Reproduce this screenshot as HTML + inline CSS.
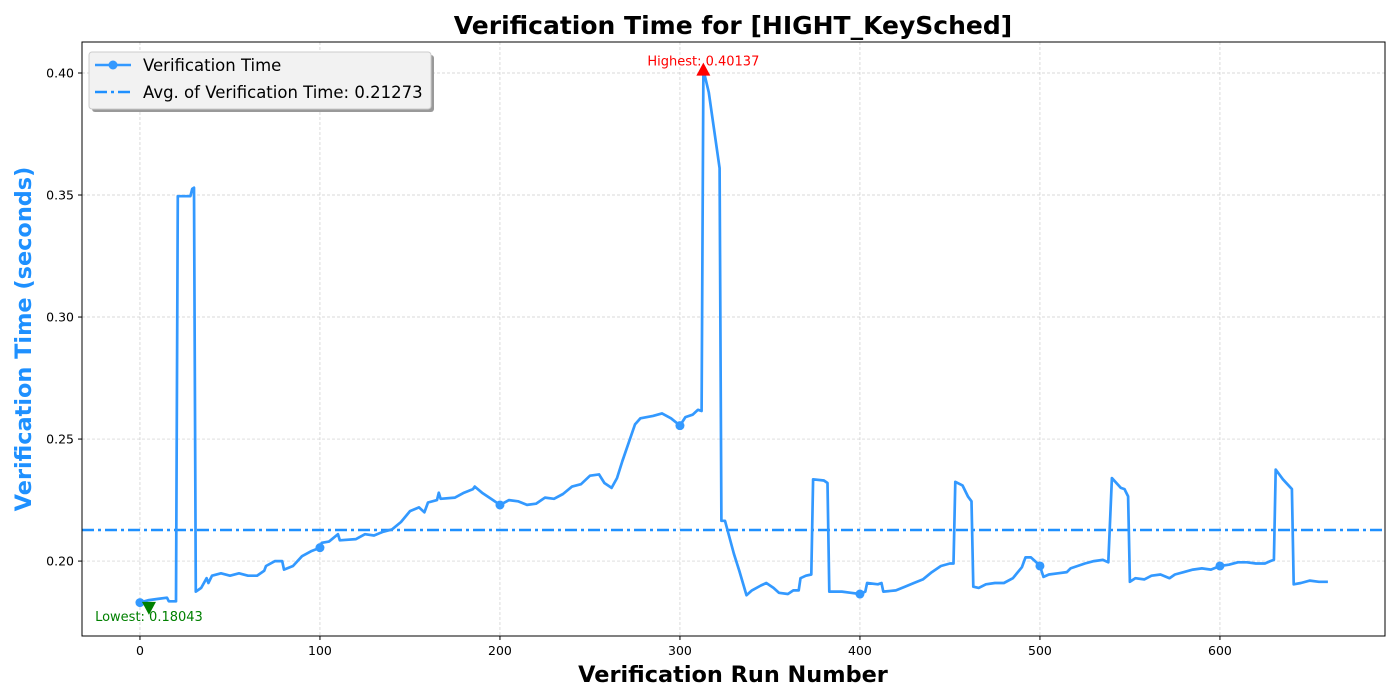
<!DOCTYPE html>
<html><head><meta charset="utf-8"><style>
html,body{margin:0;padding:0;background:#fff;}
svg{display:block;font-family:"DejaVu Sans","Liberation Sans",sans-serif;}
</style></head><body>
<svg id="chart" width="1400" height="700" xmlns="http://www.w3.org/2000/svg">
<rect x="0" y="0" width="1400" height="700" fill="#fff"/>
<g id="grid"></g>
<g id="series"></g>
<rect x="82" y="42" width="1303" height="594" fill="none" stroke="#000" stroke-width="1"/>
<g id="axes"></g>
<text x="733" y="34" text-anchor="middle" font-size="25" font-weight="bold">Verification Time for [HIGHT_KeySched]</text>
<text x="733" y="682" text-anchor="middle" font-size="22.4" font-weight="bold">Verification Run Number</text>
<text transform="translate(31,339) rotate(-90)" text-anchor="middle" font-size="22.4" font-weight="bold" fill="#1e90ff">Verification Time (seconds)</text>
<g>
<rect x="92" y="55" width="342" height="57" rx="3" fill="#999"/>
<rect x="89" y="52" width="342" height="57" rx="3" fill="#f2f2f2" stroke="#ccc"/>
<line x1="95" y1="65" x2="131" y2="65" stroke="#3399ff" stroke-width="2.5"/>
<circle cx="113" cy="65" r="4.5" fill="#3399ff"/>
<text x="143" y="71" font-size="16.5">Verification Time</text>
<line x1="95" y1="92" x2="131" y2="92" stroke="#1e90ff" stroke-width="2.5" stroke-dasharray="12,4,3,4"/>
<text x="143" y="98" font-size="16.5">Avg. of Verification Time: 0.21273</text>
</g>
</svg>
<script>
const runs = [0,5,10,15,16,20,21,25,28,29,30,31,34,37,38,40,45,50,55,60,65,69,70,75,79,80,85,90,95,100,101,105,110,111,120,125,130,135,140,145,150,155,158,160,165,166,167,175,180,185,186,190,195,200,205,210,215,220,225,230,235,240,245,250,255,258,262,265,268,275,278,285,290,295,300,303,307,310,312,313,316,322,323,325,330,333,337,340,345,348,352,355,360,363,366,367,370,373,374,380,382,383,390,395,400,403,404,410,412,413,420,425,430,435,440,445,450,452,453,457,460,462,463,466,470,475,480,485,490,492,495,498,500,502,505,510,515,517,525,530,535,538,540,545,547,549,550,553,558,562,567,572,575,580,585,590,595,600,605,610,615,620,625,628,630,631,635,640,641,645,650,655,660];
const times = [0.1830,0.1840,0.1845,0.1850,0.1835,0.1835,0.3495,0.3495,0.3495,0.3525,0.3530,0.1875,0.1890,0.1930,0.1910,0.1940,0.1950,0.1940,0.1950,0.1940,0.1940,0.1960,0.1980,0.2000,0.2000,0.1965,0.1980,0.2020,0.2040,0.2055,0.2075,0.2080,0.2110,0.2085,0.2090,0.2110,0.2105,0.2120,0.2130,0.2160,0.2205,0.2220,0.2200,0.2240,0.2250,0.2280,0.2255,0.2260,0.2280,0.2295,0.2305,0.2280,0.2255,0.2230,0.2250,0.2245,0.2230,0.2235,0.2260,0.2255,0.2275,0.2305,0.2315,0.2350,0.2355,0.2320,0.2300,0.2340,0.2410,0.2560,0.2585,0.2595,0.2605,0.2585,0.2555,0.2590,0.2600,0.2620,0.2615,0.40137,0.3920,0.3610,0.2165,0.2165,0.2030,0.1960,0.1860,0.1880,0.1900,0.1910,0.1890,0.1870,0.1865,0.1880,0.1880,0.1930,0.1940,0.1945,0.2335,0.2330,0.2320,0.1875,0.1875,0.1870,0.1865,0.1875,0.1910,0.1905,0.1910,0.1875,0.1880,0.1895,0.1910,0.1925,0.1955,0.1980,0.1990,0.1990,0.2325,0.2310,0.2265,0.2245,0.1895,0.1890,0.1905,0.1910,0.1910,0.1930,0.1975,0.2015,0.2015,0.1995,0.1980,0.1935,0.1945,0.1950,0.1955,0.1970,0.1990,0.2000,0.2005,0.1995,0.2340,0.2300,0.2295,0.2265,0.1915,0.1930,0.1925,0.1940,0.1945,0.1930,0.1945,0.1955,0.1965,0.1970,0.1965,0.1980,0.1985,0.1995,0.1995,0.1990,0.1990,0.2000,0.2005,0.2375,0.2335,0.2295,0.1905,0.1910,0.1920,0.1915,0.1915];
const markerRuns = [0,100,200,300,400,500,600];
const xTicks = [0,100,200,300,400,500,600];
const yTicks = [0.20,0.25,0.30,0.35,0.40];
const avgValue = 0.21273;
const highest = {run:313, value:0.40137};
const lowest = {run:5, value:0.18043};

const NS="http://www.w3.org/2000/svg";
const L=82,R=1385,T=42,B=636;
const xMin=-32.2,xMax=691.7,yMin=0.1693,yMax=0.4127;
const sx=v=>L+(v-xMin)/(xMax-xMin)*(R-L);
const sy=v=>B-(v-yMin)/(yMax-yMin)*(B-T);
function mk(tag,attrs,parent,text){const e=document.createElementNS(NS,tag);for(const k in attrs)e.setAttribute(k,attrs[k]);if(text!==undefined)e.textContent=text;parent.appendChild(e);return e;}
const grid=document.getElementById('grid'),axes=document.getElementById('axes'),series=document.getElementById('series');
xTicks.forEach(t=>{
  const g=mk('line',{x1:sx(t),x2:sx(t),y1:T,y2:B,stroke:'#ccc','stroke-width':0.7,'stroke-dasharray':'3,2'},grid);
  
  
  const tk=mk('line',{x1:sx(t),x2:sx(t),y1:B,y2:B+4,stroke:'#000'},axes);
  
  
  const lb=mk('text',{x:sx(t),y:B+19,'text-anchor':'middle','font-size':12.5},axes,String(t));
  
  
});
yTicks.forEach(t=>{
  const g=mk('line',{x1:L,x2:R,y1:sy(t),y2:sy(t),stroke:'#ccc','stroke-width':0.7,'stroke-dasharray':'3,2'},grid);
  
  
  const tk=mk('line',{x1:L-4,x2:L,y1:sy(t),y2:sy(t),stroke:'#000'},axes);
  
  
  const lb=mk('text',{x:L-8,y:sy(t)+4.5,'text-anchor':'end','font-size':12.5},axes,t.toFixed(2));
  
  
});
const avg=mk('line',{x1:L,x2:R,y1:sy(avgValue),y2:sy(avgValue),stroke:'#1e90ff','stroke-width':2.5,'stroke-dasharray':'12,4,3,4'},series);


const d=runs.map((r,i)=>(i?'L':'M')+sx(r).toFixed(1)+','+sy(times[i]).toFixed(1)).join(' ');
const line=mk('path',{d:d,fill:'none',stroke:'#3399ff','stroke-width':2.7,'stroke-linejoin':'round'},series);


function valAt(r){for(let i=0;i<runs.length-1;i++){if(r>=runs[i]&&r<=runs[i+1]){const f=(r-runs[i])/(runs[i+1]-runs[i]);return times[i]+f*(times[i+1]-times[i]);}}return times[times.length-1];}
markerRuns.forEach(r=>{
  const c=mk('circle',{cx:sx(r),cy:sy(valAt(r)),r:4.5,fill:'#3399ff'},series);
  
  
});
const hx=sx(highest.run),hy=sy(highest.value);
const hm=mk('polygon',{points:`${hx-7},${hy+6} ${hx+7},${hy+6} ${hx},${hy-7}`,fill:'red'},series);


const ht=mk('text',{x:hx,y:hy-4,'text-anchor':'middle','font-size':13,fill:'red'},series,'Highest: '+highest.value.toFixed(5));


const lx=sx(lowest.run),ly=sy(lowest.value);
const lm=mk('polygon',{points:`${lx-7},${ly-7} ${lx+7},${ly-7} ${lx},${ly+6}`,fill:'green'},series);


const lt=mk('text',{x:lx,y:ly+12,'text-anchor':'middle','font-size':13,fill:'green'},series,'Lowest: '+lowest.value.toFixed(5));


</script>
</body></html>
